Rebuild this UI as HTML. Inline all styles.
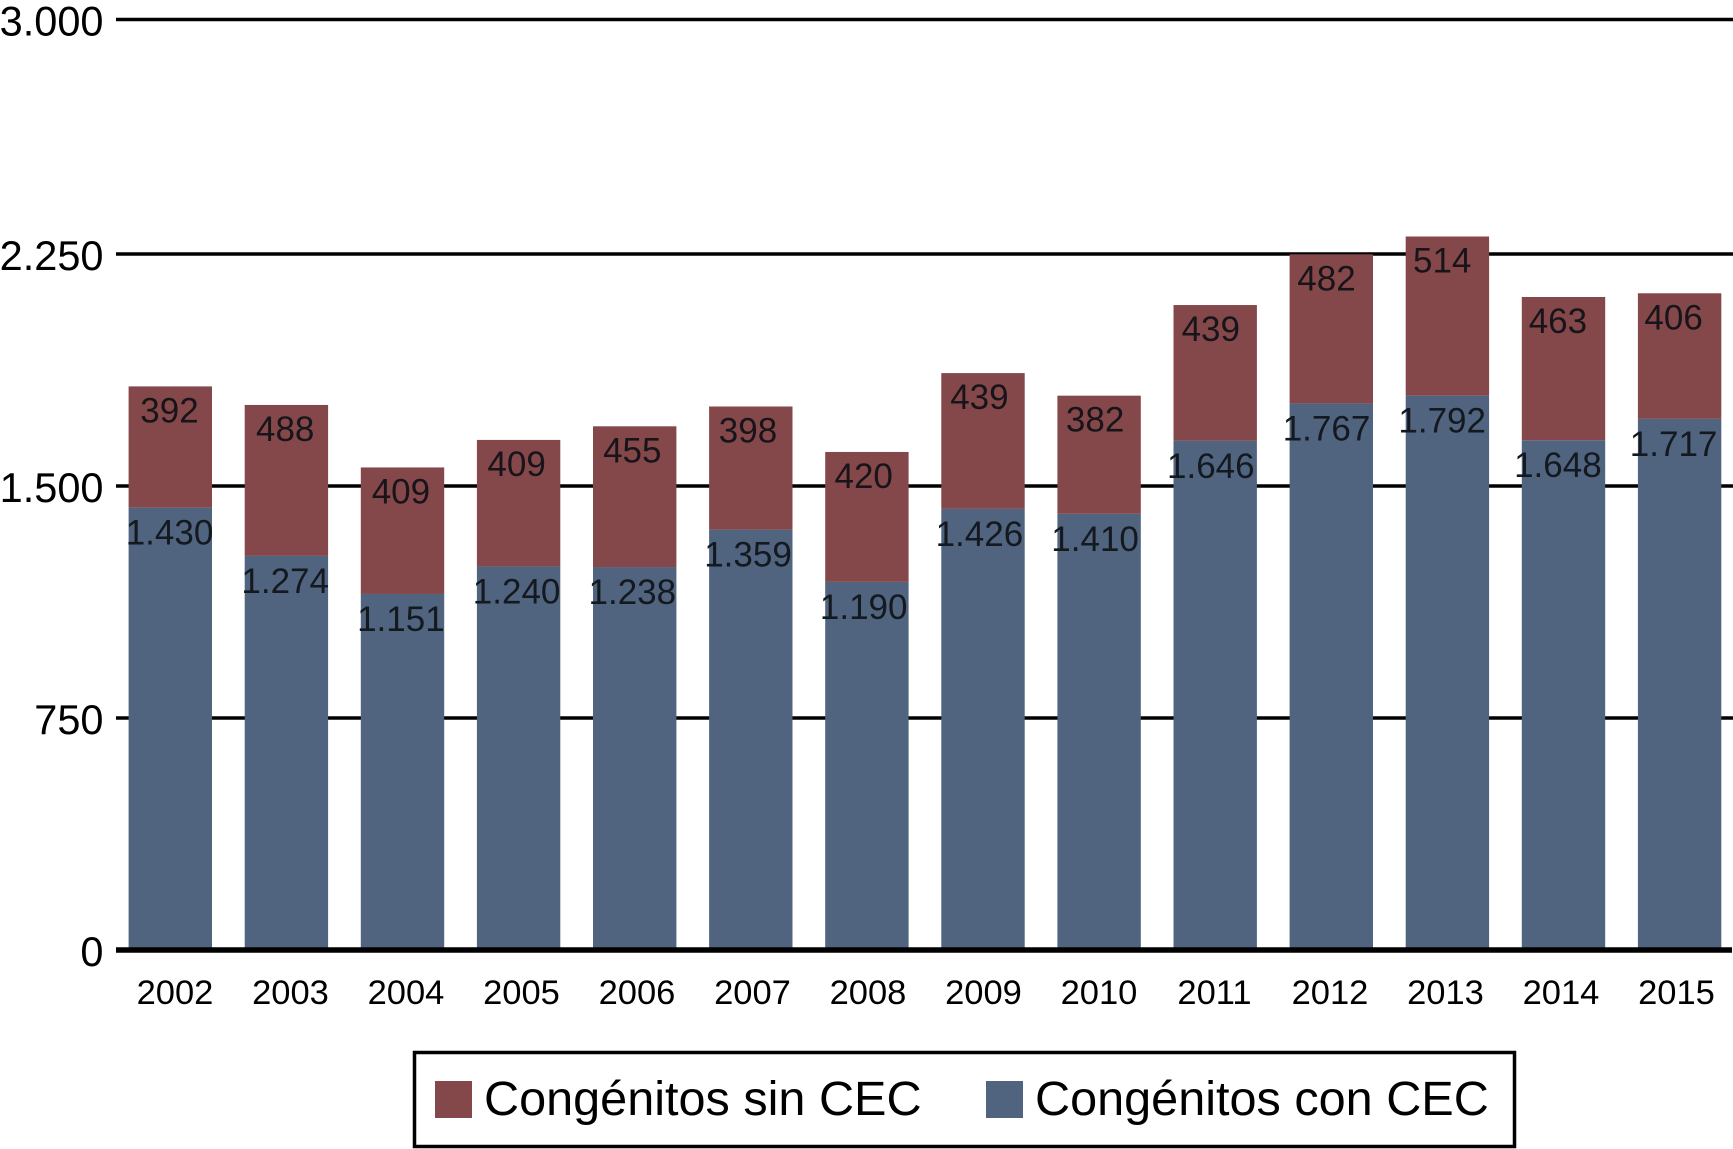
<!DOCTYPE html>
<html lang="es">
<head>
<meta charset="utf-8">
<title>Congénitos con y sin CEC, 2002-2015</title>
<style>
  html, body { margin: 0; padding: 0; background: #fff; }
  body { width: 1733px; height: 1149px; overflow: hidden; }
  svg { display: block; font-family: "Liberation Sans", Arial, sans-serif; }
</style>
</head>
<body>
<svg id="chart" xmlns="http://www.w3.org/2000/svg" width="1733" height="1149" viewBox="0 0 1733 1149">
  <rect x="0" y="0" width="1733" height="1149" fill="#ffffff"/>
  <g id="grid"></g>
  <g id="y-axis"></g>
  <g id="bars"></g>
  <g id="x-axis"></g>
  <line x1="116" x2="1732" y1="950" y2="950" stroke="#000" stroke-width="5.5"/>
  <g id="value-labels"></g>
  <g>
    <rect x="414.5" y="1052.5" width="1100" height="94" fill="#fff" stroke="#000" stroke-width="3.5"/>
    <rect x="435" y="1081" width="37" height="37" fill="#84484b"/>
    <text x="484" y="1115" font-size="48.6" fill="#000">Congénitos sin CEC</text>
    <rect x="986" y="1081" width="37" height="37" fill="#50647f"/>
    <text x="1035" y="1115" font-size="48.6" fill="#000">Congénitos con CEC</text>
  </g>
</svg>
<script>
const years = [2002, 2003, 2004, 2005, 2006, 2007, 2008, 2009, 2010, 2011, 2012, 2013, 2014, 2015];
const conCEC = [1430, 1274, 1151, 1240, 1238, 1359, 1190, 1426, 1410, 1646, 1767, 1792, 1648, 1717];
const sinCEC = [392, 488, 409, 409, 455, 398, 420, 439, 382, 439, 482, 514, 463, 406];
const yTicks = [0, 750, 1500, 2250, 3000];

const SVG_NS = 'http://www.w3.org/2000/svg';
/* The source axis is slightly uneven: the band above 2.250 is stretched. */
const yScale = v => v <= 2250 ? 950 - v * (696 / 2250) : 254 - (v - 2250) * (234.5 / 750);
const barLeft = i => 128.6 + i * 116.1;
const barWidth = 83.4;
const labelCenter = i => 169.5 + i * 115.7;
const xTickCenter = i => 175 + i * 115.5;
const fmt = v => String(v).replace(/\B(?=(\d{3})+$)/g, '.');

function make(tag, parentId, props, text) {
  const node = document.createElementNS(SVG_NS, tag);
  Object.keys(props).forEach(k => node.setAttribute(k, props[k]));
  if (text !== undefined) node.textContent = text;
  document.getElementById(parentId).appendChild(node);
  return node;
}

yTicks.forEach(t => {
  if (t !== 0) {
    const line = make('line', 'grid', { x1: 116, x2: 1733, y1: yScale(t), y2: yScale(t), stroke: '#000', 'stroke-width': 3.6 });
    
    
  }
  const label = make('text', 'y-axis', { x: 103.5, y: yScale(t) + 16, 'text-anchor': 'end', 'font-size': 41.5, fill: '#000' }, fmt(t));
  
  
});

years.forEach((year, i) => {
  const con = conCEC[i];
  const sin = sinCEC[i];
  const yCon = yScale(con);
  const yTop = yScale(con + sin);

  const barCon = make('rect', 'bars', { x: barLeft(i), y: yCon, width: barWidth, height: yScale(0) - yCon, fill: '#50647f' });
  
  

  const barSin = make('rect', 'bars', { x: barLeft(i), y: yTop, width: barWidth, height: yCon - yTop, fill: '#84484b' });
  
  

  const labelSin = make('text', 'value-labels', { x: labelCenter(i), y: yTop + 36, 'text-anchor': 'middle', 'font-size': 35, fill: '#17141a' }, fmt(sin));
  
  

  const labelCon = make('text', 'value-labels', { x: labelCenter(i), y: yCon + 37, 'text-anchor': 'middle', 'font-size': 35, fill: '#14181f' }, fmt(con));
  
  

  const tick = make('text', 'x-axis', { x: xTickCenter(i), y: 1004, 'text-anchor': 'middle', 'font-size': 34.5, fill: '#000' }, String(year));
  
  
});
</script>
</body>
</html>
